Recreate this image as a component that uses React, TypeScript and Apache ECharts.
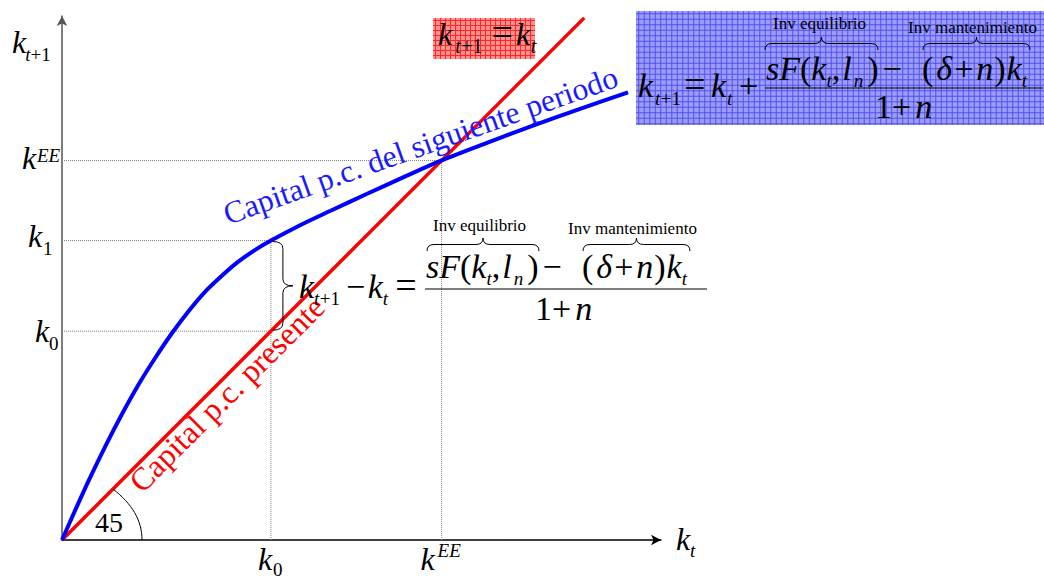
import { useEffect, useRef } from 'react';
import * as echarts from 'echarts';

// Axis extents (capital per capita, arbitrary units)
const X_MAX = 16;
const Y_MAX = 14;

// Reference levels
const K0 = 5.58;
const K1 = 8.0;
const KEE = 10.14;

// k_{t+1} as a function of k_t (next-period capital curve)
const nextKt = [
  0, 0.35, 0.7, 1.15, 1.6, 2.03, 2.48, 2.94, 3.37, 3.82, 4.27, 4.7, 5.16, 5.58,
  6.36, 7.16, 8.15, 9.14, 10.14, 11.35, 12.58, 13.84, 15.12,
];
const nextKt1 = [
  0, 0.79, 1.56, 2.49, 3.36, 4.13, 4.85, 5.53, 6.1, 6.63, 7.06, 7.43, 7.75, 8.0,
  8.41, 8.79, 9.25, 9.7, 10.14, 10.61, 11.07, 11.52, 11.96,
];

// 45-degree line k_{t+1} = k_t
const presentKt = [0, 13.95];
const presentKt1 = [0, 13.95];

const SERIF = '"Liberation Serif", "Times New Roman", Times, serif';
const CENTRAL = 0.3375;

let ctx: CanvasRenderingContext2D | null = null;
function textWidth(text: string, size: number, italic = false) {
  if (!ctx) ctx = document.createElement('canvas').getContext('2d');
  if (!ctx) return text.length * size * 0.5;
  ctx.font = `${italic ? 'italic ' : ''}${size}px ${SERIF}`;
  return ctx.measureText(text).width;
}

function tok(x: number, base: number, size: number, text: string, italic = false, fill = '#000') {
  return {
    type: 'text',
    silent: true,
    z: 20,
    x,
    y: base - CENTRAL * size,
    style: {
      text,
      font: `${italic ? 'italic ' : ''}${size}px ${SERIF}`,
      fill,
      align: 'left',
      verticalAlign: 'middle',
      textAlign: 'left',
      textVerticalAlign: 'middle',
    },
  };
}

// A run of math glyphs laid out left to right: text, size, baseline, italic, extra gap before
type Run = [string, number, number, boolean?, number?];
function flow(x: number, runs: Run[]) {
  const out: any[] = [];
  let cx = x;
  for (const [t, s, b, it, g] of runs) {
    cx += g ?? 0;
    out.push(tok(cx, b, s, t, !!it));
    cx += textWidth(t, s, !!it);
  }
  return out;
}

function rotatedText(bx: number, by: number, size: number, angle: number, text: string, fill: string) {
  return {
    type: 'text',
    silent: true,
    z: 20,
    x: bx - CENTRAL * size * Math.sin(angle),
    y: by - CENTRAL * size * Math.cos(angle),
    rotation: angle,
    style: {
      text,
      font: `${size}px ${SERIF}`,
      fill,
      align: 'left',
      verticalAlign: 'middle',
      textAlign: 'left',
      textVerticalAlign: 'middle',
    },
  };
}

function overBrace(x1: number, x2: number, yTop: number, yBot: number) {
  const ym = (yTop + yBot) / 2;
  const xm = (x1 + x2) / 2;
  const r = 7;
  return `M${x1} ${yBot} Q${x1} ${ym} ${x1 + r} ${ym} L${xm - r} ${ym} Q${xm} ${ym} ${xm} ${yTop} Q${xm} ${ym} ${xm + r} ${ym} L${x2 - r} ${ym} Q${x2} ${ym} ${x2} ${yBot}`;
}

function rightBrace(x1: number, x2: number, yTop: number, yBot: number) {
  const xs = (x1 + x2) / 2;
  const ym = (yTop + yBot) / 2;
  const r = 7;
  return `M${x1} ${yTop} Q${xs} ${yTop} ${xs} ${yTop + r} L${xs} ${ym - r} Q${xs} ${ym} ${x2} ${ym} Q${xs} ${ym} ${xs} ${ym + r} L${xs} ${yBot - r} Q${xs} ${yBot} ${x1} ${yBot}`;
}

function gridBox(x: number, y: number, w: number, h: number, fill: string, line: string, step: number) {
  const els: any[] = [
    { type: 'rect', silent: true, z: 5, shape: { x, y, width: w, height: h }, style: { fill } },
  ];
  for (let gx = x + step / 2; gx < x + w; gx += step) {
    els.push({ type: 'line', silent: true, z: 6, shape: { x1: gx, y1: y, x2: gx, y2: y + h }, style: { stroke: line, lineWidth: 1 } });
  }
  for (let gy = y + step / 2; gy < y + h; gy += step) {
    els.push({ type: 'line', silent: true, z: 6, shape: { x1: x, y1: gy, x2: x + w, y2: gy }, style: { stroke: line, lineWidth: 1 } });
  }
  return els;
}

function hline(x1: number, x2: number, y: number) {
  return { type: 'line', silent: true, z: 20, shape: { x1, y1: y, x2, y2: y }, style: { stroke: '#000', lineWidth: 1.2 } };
}

// (sF(k_t,l_n) - (delta+n)k_t) / (1+n) with the two overbraces and their captions
function fraction(o: {
  x: number; x2: number; num: number; sub: number; den: number; denX: number;
  bar: number; barX1: number; barX2: number;
  labL: [number, number]; labR: [number, number];
  braceL: [number, number]; braceR: [number, number]; braceTop: number; braceBot: number;
  nameL: string; nameR: string;
}) {
  const M = 34, S = 19, N = o.num, B = o.sub;
  echarts.graphic.registerShape(o.nameL, echarts.graphic.extendPath(overBrace(o.braceL[0], o.braceL[1], o.braceTop, o.braceBot), {}));
  echarts.graphic.registerShape(o.nameR, echarts.graphic.extendPath(overBrace(o.braceR[0], o.braceR[1], o.braceTop, o.braceBot), {}));
  return [
    ...flow(o.x, [
      ['s', M, N, true], ['F', M, N, true], ['(', M, N], ['k', M, N, true], ['t', S, B, true],
      [',', M, N], ['l', M, N, true, 2], ['n', S, B, true, 2], [')', M, N, false, 4], ['−', M, N, false, 4],
    ]),
    ...flow(o.x2, [
      ['(', M, N], ['δ', M, N, true, 3], ['+', M, N, false, 2], ['n', M, N, true, 3],
      [')', M, N, false, 1], ['k', M, N, true, 1], ['t', S, B, true],
    ]),
    hline(o.barX1, o.barX2, o.bar),
    ...flow(o.denX, [['1', M, o.den], ['+', M, o.den], ['n', M, o.den, true, 4]]),
    tok(o.labL[0], o.labL[1], 17, 'Inv equilibrio'),
    tok(o.labR[0], o.labR[1], 17, 'Inv mantenimiento'),
    { type: o.nameL, silent: true, z: 20, shape: {}, style: { fill: 'none', stroke: '#000', lineWidth: 1 } },
    { type: o.nameR, silent: true, z: 20, shape: {}, style: { fill: 'none', stroke: '#000', lineWidth: 1 } },
  ];
}

export default function App() {
  const ref = useRef<HTMLDivElement>(null);

  useEffect(() => {
    if (!ref.current) return;
    const chart = echarts.init(ref.current, null, { renderer: 'svg' });

    const dotted = (data: number[][]) => ({
      type: 'line',
      data,
      symbol: 'none',
      silent: true,
      z: 1,
      lineStyle: { type: 'dotted', color: '#808080', width: 1 },
    });

    chart.setOption({
      animation: false,
      backgroundColor: '#fff',
      grid: { left: 62, top: 16, width: 599, height: 524 },
      xAxis: {
        type: 'value',
        min: 0,
        max: X_MAX,
        axisLine: { show: true, symbol: ['none', 'arrow'], symbolSize: [8, 10], lineStyle: { color: '#000', width: 1.5 } },
        axisTick: { show: false },
        axisLabel: { show: false },
        splitLine: { show: false },
      },
      yAxis: {
        type: 'value',
        min: 0,
        max: Y_MAX,
        axisLine: { show: true, symbol: ['none', 'arrow'], symbolSize: [8, 10], lineStyle: { color: '#555', width: 1.5 } },
        axisTick: { show: false },
        axisLabel: { show: false },
        splitLine: { show: false },
      },
      series: [
        dotted([[0, KEE], [KEE, KEE]]),
        dotted([[KEE, 0], [KEE, KEE]]),
        dotted([[0, K1], [K0, K1]]),
        dotted([[0, K0], [K0, K0]]),
        dotted([[K0, 0], [K0, K1]]),
        {
          type: 'line',
          name: 'Capital p.c. presente',
          data: presentKt.map((x, i) => [x, presentKt1[i]]),
          symbol: 'none',
          z: 3,
          lineStyle: { color: '#ff0000', width: 3.5 },
        },
        {
          type: 'line',
          name: 'Capital p.c. del siguiente periodo',
          data: nextKt.map((x, i) => [x, nextKt1[i]]),
          symbol: 'none',
          smooth: 0.3,
          z: 4,
          lineStyle: { color: '#0000ff', width: 4 },
        },
      ],
    });

    const px = (x: number, y: number) => chart.convertToPixel({ gridIndex: 0 }, [x, y]) as number[];
    const [ox, oy] = px(0, 0);
    const yEE = px(0, KEE)[1];
    const y1 = px(0, K1)[1];
    const y0 = px(0, K0)[1];
    const x0 = px(K0, 0)[0];
    const xEE = px(KEE, 0)[0];

    echarts.graphic.registerShape('kGapBrace', echarts.graphic.extendPath(rightBrace(x0 + 2, x0 + 22, y1 + 1, y0 - 1), {}));

    const els: any[] = [];

    // 45 degree angle mark
    els.push({
      type: 'bezierCurve',
      silent: true,
      z: 20,
      shape: { x1: ox + 51, y1: oy - 51, cpx1: ox + 70, cpy1: oy - 36, cpx2: ox + 80, cpy2: oy - 20, x2: ox + 80, y2: oy },
      style: { fill: 'none', stroke: '#000', lineWidth: 1 },
    });
    els.push(tok(ox + 33, oy - 8, 28, '45'));

    // curve names
    els.push(rotatedText(ox + 80, oy - 46, 32, Math.PI / 4, 'Capital p.c. presente', '#ff0000'));
    els.push(rotatedText(ox + 166, oy - 315, 31.5, 0.341, 'Capital p.c. del siguiente periodo', '#1a1aff'));

    // vertical axis labels
    els.push(...flow(12, [['k', 32, 53, true], ['t', 19, 61, true, -1], ['+1', 19, 61]]));
    els.push(tok(22, yEE + 8, 32, 'k', true), tok(37, yEE + 1, 19, 'EE', true));
    els.push(tok(28, y1 + 6, 32, 'k', true), tok(43, y1 + 14, 19, '1'));
    els.push(tok(35, y0 + 11, 32, 'k', true), tok(49, y0 + 19, 19, '0'));

    // horizontal axis labels
    els.push(tok(x0 - 13, 570, 32, 'k', true), tok(x0 + 2, 576, 19, '0'));
    els.push(tok(xEE - 21, 570, 32, 'k', true), tok(xEE - 4, 557, 19, 'EE', true));
    els.push(tok(676, 550, 32, 'k', true), tok(690, 557, 19, 't', true));

    // gap brace and its equation
    els.push({ type: 'kGapBrace', silent: true, z: 20, shape: {}, style: { fill: 'none', stroke: '#000', lineWidth: 1 } });
    els.push(...flow(299, [
      ['k', 34, 298, true], ['t', 19, 305, true], ['+1', 19, 305, false, 0.5],
      ['−', 34, 298, false, 6], ['k', 34, 298, true, 2.5], ['t', 19, 305, true],
      ['=', 38, 298, false, 7],
    ]));
    els.push(...fraction({
      x: 426, x2: 582, num: 278, sub: 285, den: 320, denX: 535,
      bar: 289, barX1: 425, barX2: 707,
      labL: [433, 231], labR: [568, 234],
      braceL: [427, 539], braceR: [583, 690], braceTop: 238, braceBot: 251,
      nameL: 'midBraceL', nameR: 'midBraceR',
    }));

    // k_{t+1} = k_t tag
    els.push(...gridBox(433, 18, 102, 41, '#ff9191', '#ff2626', 5));
    els.push(...flow(438, [
      ['k', 32, 45, true], ['t', 20, 53, true, 3], ['+1', 20, 53, false, 0.5],
      ['=', 38, 45, false, 9], ['k', 32, 45, true, 3], ['t', 20, 53, true, 0.5],
    ]));

    // full accumulation equation tag
    els.push(...gridBox(636, 11, 408, 114, '#9c9cfa', '#5252ec', 5.5));
    els.push(...flow(638, [
      ['k', 34, 97, true], ['t', 19, 105, true, 2], ['+1', 19, 105, false, 0.5],
      ['=', 38, 97, false, 3], ['k', 34, 97, true, 5.5], ['t', 19, 105, true, 1],
      ['+', 34, 97, false, 6.5],
    ]));
    els.push(...fraction({
      x: 766, x2: 922, num: 80, sub: 87, den: 118, denX: 875,
      bar: 88, barX1: 765, barX2: 1043,
      labL: [773, 29], labR: [908, 33],
      braceL: [765, 878], braceR: [923, 1030], braceTop: 37, braceBot: 50,
      nameL: 'boxBraceL', nameR: 'boxBraceR',
    }));

    chart.setOption({ graphic: els });

    return () => chart.dispose();
  }, []);

  return (
    <div
      ref={ref}
      style={{ position: 'fixed', left: 0, top: 0, width: 1044, height: 576, background: '#fff' }}
    />
  );
}
